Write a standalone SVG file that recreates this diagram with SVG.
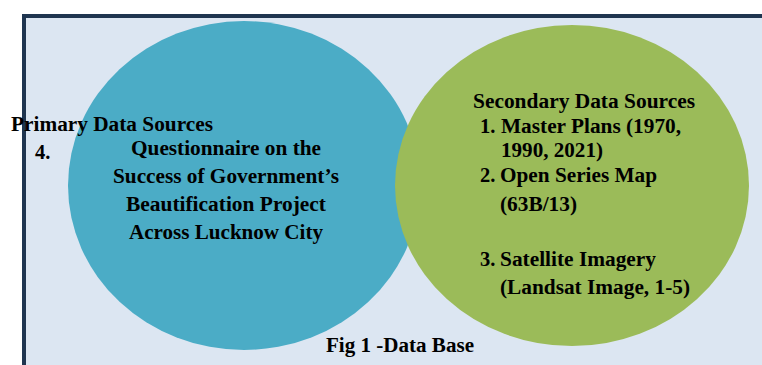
<svg xmlns="http://www.w3.org/2000/svg" width="762" height="365" viewBox="0 0 762 365">
<style>
text{font-family:"Liberation Serif","Times New Roman",serif;font-weight:bold;fill:#000;font-size:20.5px}
</style>
<rect x="0" y="0" width="762" height="365" fill="#fff"/>
<rect x="24" y="16" width="750" height="360" fill="#dce6f2" stroke="#1f3550" stroke-width="4"/>
<g id="primary">
<ellipse cx="244" cy="185.5" rx="176" ry="164.5" fill="#4bacc6"/>
<text x="11" y="131" textLength="202" lengthAdjust="spacingAndGlyphs">Primary Data Sources</text>
<text x="35" y="159">4.</text>
<text x="131" y="155" textLength="190" lengthAdjust="spacingAndGlyphs">Questionnaire on the</text>
<text x="113" y="183" textLength="226" lengthAdjust="spacingAndGlyphs">Success of Government’s</text>
<text x="126" y="211" textLength="200" lengthAdjust="spacingAndGlyphs">Beautification Project</text>
<text x="129" y="239" textLength="194" lengthAdjust="spacingAndGlyphs">Across Lucknow City</text>
</g>
<g id="secondary">
<ellipse cx="572" cy="185.5" rx="177" ry="160.5" fill="#9bbb59"/>
<text x="473" y="108" textLength="222" lengthAdjust="spacingAndGlyphs">Secondary Data Sources</text>
<text x="480" y="133">1.</text>
<text x="501" y="133" textLength="180" lengthAdjust="spacingAndGlyphs">Master Plans (1970,</text>
<text x="501" y="157" textLength="102" lengthAdjust="spacingAndGlyphs">1990, 2021)</text>
<text x="480" y="182">2.</text>
<text x="500" y="182" textLength="157" lengthAdjust="spacingAndGlyphs">Open Series Map</text>
<text x="500" y="211" textLength="77" lengthAdjust="spacingAndGlyphs">(63B/13)</text>
<text x="480" y="266">3.</text>
<text x="500" y="266" textLength="156" lengthAdjust="spacingAndGlyphs">Satellite Imagery</text>
<text x="500" y="294" textLength="190" lengthAdjust="spacingAndGlyphs">(Landsat Image, 1-5)</text>
</g>
<g id="connectors"/>
<text x="326" y="352" textLength="148" lengthAdjust="spacingAndGlyphs">Fig 1 -Data Base</text>
</svg>
